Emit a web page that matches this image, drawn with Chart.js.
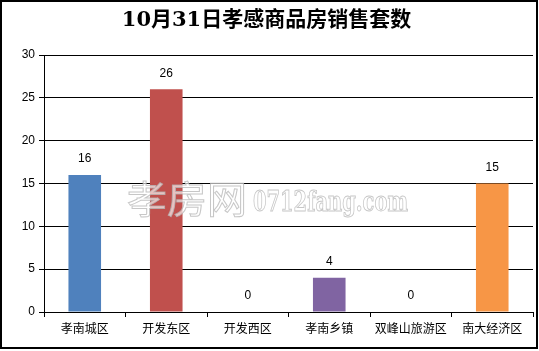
<!DOCTYPE html>
<html>
<head>
<meta charset="utf-8">
<script src="https://cdn.jsdelivr.net/npm/chart.js@4/dist/chart.umd.min.js"></script>
<style>
html,body{margin:0;padding:0;background:#fff;}
#wrap{width:539px;height:351px;position:relative;}
</style>
</head>
<body>
<div id="wrap"><canvas id="c" width="539" height="351"></canvas></div>
<script>
const titleText = "10月31日孝感商品房销售套数";
const categories = ["孝南城区", "开发东区", "开发西区", "孝南乡镇", "双峰山旅游区", "南大经济区"];
const salesCounts = [16, 26, 0, 4, 0, 15];
const barColors = ["#4F81BD", "#C0504D", "#9BBB59", "#8064A2", "#4BACC6", "#F79646"];
const watermarkMain = "孝房网";
const watermarkSub = "0712fang.com";

const framePlugin = {
  id: 'frame',
  beforeDraw(chart) {
    const ctx = chart.ctx;
    ctx.save();
    ctx.fillStyle = '#fff';
    ctx.fillRect(0, 0, chart.width, chart.height);
    ctx.restore();
  },
  afterDraw(chart) {
    const ctx = chart.ctx;
    ctx.save();
    ctx.strokeStyle = '#000';
    ctx.lineWidth = 2;
    ctx.strokeRect(1, 1, 536, 347);
    ctx.restore();
  }
};

const labelPlugin = {
  id: 'valueLabels',
  afterDatasetsDraw(chart) {
    const ctx = chart.ctx;
    const meta = chart.getDatasetMeta(0);
    ctx.save();
    // watermark
    ctx.lineWidth = 1;
    ctx.strokeStyle = 'rgba(180,180,180,0.75)';
    ctx.fillStyle = 'rgba(255,255,255,0.65)';
    ctx.textBaseline = 'alphabetic';
    ctx.textAlign = 'left';
    ctx.font = '38px "Noto Sans CJK SC"';
    const wm = ctx.measureText(watermarkMain).width;
    ctx.save();
    ctx.translate(127, 213);
    ctx.scale(120 / wm, 1);
    ctx.fillText(watermarkMain, 0, 0);
    ctx.strokeText(watermarkMain, 0, 0);
    ctx.restore();
    ctx.font = 'bold 27px "DejaVu Serif"';
    const w = ctx.measureText(watermarkSub).width;
    ctx.save();
    ctx.translate(253, 211);
    ctx.scale(155 / w, 1);
    ctx.fillText(watermarkSub, 0, 0);
    ctx.strokeText(watermarkSub, 0, 0);
    ctx.restore();
    // value labels
    ctx.fillStyle = '#000';
    ctx.font = '12px "Liberation Sans", Arial, sans-serif';
    ctx.textAlign = 'center';
    ctx.textBaseline = 'middle';
    meta.data.forEach((bar, i) => {
      ctx.fillText(String(salesCounts[i]), bar.x, bar.y - 16);
    });
    ctx.restore();
  }
};

new Chart(document.getElementById('c'), {
  type: 'bar',
  data: {
    labels: categories,
    datasets: [{
      data: salesCounts,
      backgroundColor: barColors,
      borderWidth: 0,
      categoryPercentage: 1,
      barPercentage: 0.4
    }]
  },
  options: {
    responsive: false,
    animation: false,
    devicePixelRatio: 1,
    layout: { padding: { left: 0, right: 6, top: 0, bottom: 0 } },
    plugins: {
      legend: { display: false },
      tooltip: { enabled: false },
      title: {
        display: true,
        text: titleText,
        color: '#000',
        font: { family: '"DejaVu Serif", "Noto Sans CJK SC", serif', size: 21, weight: 'bold', lineHeight: 1.2 },
        padding: { top: 7.5, bottom: 22.3 }
      }
    },
    scales: {
      y: {
        min: 0, max: 30,
        ticks: { stepSize: 5, color: '#000', padding: 4,
          font: { family: '"Liberation Sans", Arial, sans-serif', size: 12 } },
        grid: { color: '#000', lineWidth: 1, tickLength: 5, drawTicks: true },
        border: { color: '#000', width: 1 },
        afterFit(scale) { scale.width = 44; }
      },
      x: {
        ticks: { color: '#000', padding: 4,
          font: { family: '"Noto Sans CJK SC", sans-serif', size: 12 } },
        grid: { offset: true, drawOnChartArea: false, color: '#000', tickLength: 5 },
        border: { color: '#000', width: 1 },
        afterFit(scale) { scale.height = 39; }
      }
    }
  },
  plugins: [framePlugin, labelPlugin]
});
</script>
</body>
</html>
